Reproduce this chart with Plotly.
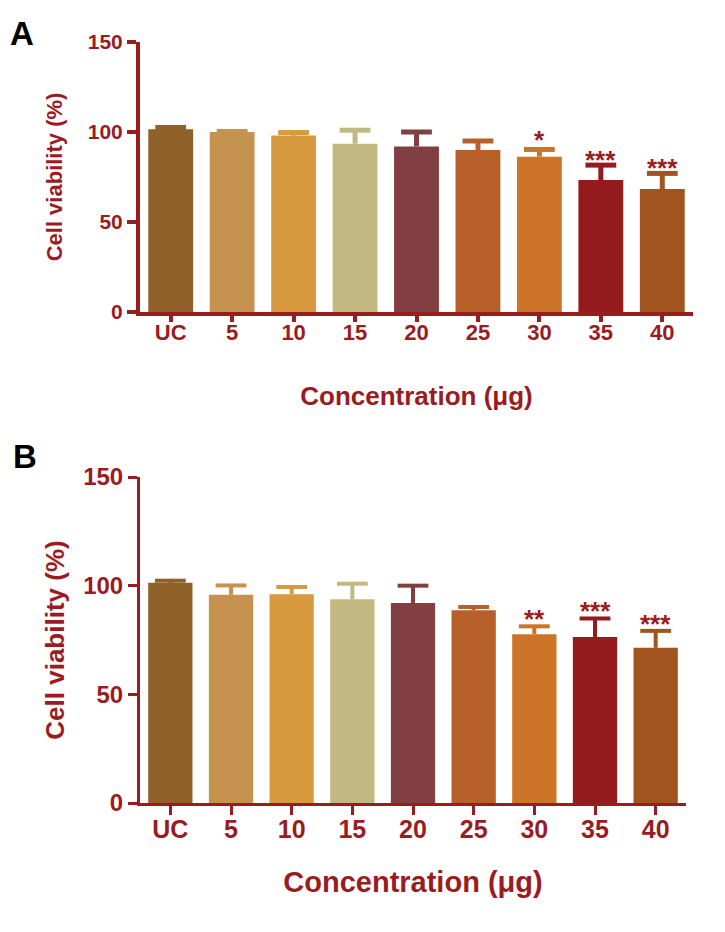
import plotly.graph_objects as go

categories = ["UC", "5", "10", "15", "20", "25", "30", "35", "40"]
colors = ["#8f6128", "#c69250", "#d89a3e", "#c2b881", "#823f42",
          "#b8602a", "#cc7529", "#931a1d", "#a1541f"]

values_A = [101.5, 100.0, 98.0, 93.5, 92.0, 90.0, 86.3, 73.3, 68.3]
errors_A = [1.0, 0.3, 1.7, 7.5, 8.0, 5.0, 4.0, 8.3, 8.7]
stars_A = ["", "", "", "", "", "", "*", "***", "***"]

values_B = [101.3, 95.8, 96.0, 93.7, 92.0, 88.7, 77.7, 76.4, 71.4]
errors_B = [1.0, 4.3, 3.4, 7.2, 8.0, 1.5, 3.6, 8.5, 7.8]
stars_B = ["", "", "", "", "", "", "**", "***", "***"]

yticks = [0, 50, 100, 150]

RED = "#9b1c1f"
FONT = "Liberation Sans, Arial, sans-serif"

W, H = 725, 932
OFF = 8  # page body margin

fig = go.Figure()

def add_panel(vals, errs, stars, xa, ya, ewidth, shifts):
    for c, v, e, col in zip(categories, vals, errs, colors):
        fig.add_trace(go.Bar(
            x=[c], y=[v], marker=dict(color=col, line=dict(width=0)),
            xaxis=xa, yaxis=ya, showlegend=False,
        ))
        fig.add_trace(go.Scatter(
            x=[c], y=[v + e], mode="markers",
            marker=dict(symbol="line-ew", size=22, color=col,
                        line=dict(color=col, width=ewidth)),
            error_y=dict(type="data", symmetric=False, array=[0], arrayminus=[e],
                         color=col, thickness=ewidth, width=0),
            xaxis=xa, yaxis=ya, showlegend=False, hoverinfo="skip",
        ))
    for i, (v, e, s) in enumerate(zip(vals, errs, stars)):
        if s:
            fig.add_annotation(
                x=i, y=v + e, xref=xa, yref=ya, text=s, showarrow=False,
                yanchor="bottom", yshift=shifts[i],
                font=dict(family=FONT, size=26, color=RED, weight="bold"),
            )

add_panel(values_A, errors_A, stars_A, "x", "y", 5, [0] * 6 + [-8, -12, -12])
add_panel(values_B, errors_B, stars_B, "x2", "y2", 4, [0] * 6 + [-10, -10, -10])

def px_x(a, b):
    return [(a - OFF) / W, (b - OFF) / W]

def px_y(top, bottom):
    return [(H - (bottom - OFF)) / H, (H - (top - OFF)) / H]

axis_common = dict(showgrid=False, zeroline=False, showline=True, linecolor=RED,
                   ticks="outside", tickcolor=RED, automargin=False)
xcommon = dict(type="category", categoryorder="array", categoryarray=categories,
               range=[-0.5, len(categories) - 0.5], tickangle=0)

fig.update_layout(
    width=W, height=H, margin=dict(l=0, r=0, t=0, b=0),
    paper_bgcolor="white", plot_bgcolor="white",
    barmode="overlay", bargap=0.27,
    xaxis=dict(**axis_common, **xcommon, domain=px_x(140, 693), anchor="y",
               linewidth=4, tickwidth=4, ticklen=6, ticklabelstandoff=-8,
               tickfont=dict(family=FONT, size=22, color=RED, weight="bold"),
               title=dict(text="Concentration (μg)", standoff=43,
                          font=dict(family=FONT, size=26, color=RED, weight="bold"))),
    yaxis=dict(**axis_common, domain=px_y(42, 312), anchor="x", range=[0, 150],
               tickvals=yticks, linewidth=4, tickwidth=4, ticklen=9,
               tickfont=dict(family=FONT, size=21, color=RED, weight="bold"),
               title=dict(text="Cell viability (%)", standoff=20,
                          font=dict(family=FONT, size=22, color=RED, weight="bold"))),
    xaxis2=dict(**axis_common, **xcommon, domain=px_x(140, 686), anchor="y2",
                linewidth=3, tickwidth=3, ticklen=9, ticklabelstandoff=-7,
                tickfont=dict(family=FONT, size=25, color=RED, weight="bold"),
                title=dict(text="Concentration (μg)", standoff=30,
                           font=dict(family=FONT, size=29, color=RED, weight="bold"))),
    yaxis2=dict(**axis_common, domain=px_y(477, 803), anchor="x2", range=[0, 150],
                tickvals=yticks, linewidth=3, tickwidth=3, ticklen=9,
                tickfont=dict(family=FONT, size=24, color=RED, weight="bold"),
                title=dict(text="Cell viability (%)", standoff=12,
                           font=dict(family=FONT, size=26, color=RED, weight="bold"))),
    annotations=list(fig.layout.annotations) + [
        dict(text="A", x=0, y=1 - 5 / H, xref="paper", yref="paper",
             xanchor="left", yanchor="top", showarrow=False,
             font=dict(family=FONT, size=33, color="black", weight="bold")),
        dict(text="B", x=3 / W, y=1 - 428 / H, xref="paper", yref="paper",
             xanchor="left", yanchor="top", showarrow=False,
             font=dict(family=FONT, size=33, color="black", weight="bold")),
    ],
)

fig.write_html("out.html")
